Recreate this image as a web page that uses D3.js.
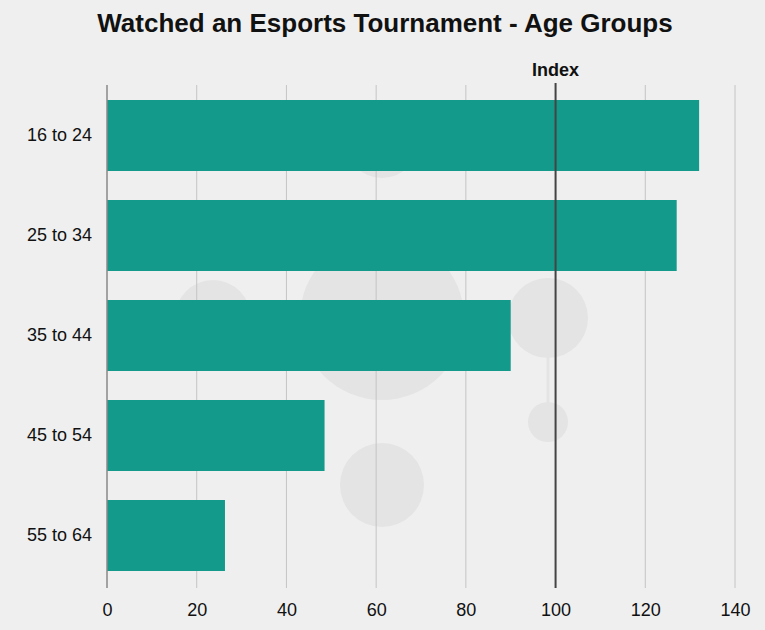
<!DOCTYPE html>
<html><head><meta charset="utf-8">
<script src="https://cdn.jsdelivr.net/npm/d3@7"></script>
<style>body{margin:0;background:#efefef;}svg{display:block;font-family:"Liberation Sans",Arial,sans-serif;}</style>
</head><body><svg id="c" width="765" height="630"></svg>
<script>
const categories = ["16 to 24","25 to 34","35 to 44","45 to 54","55 to 64"];
const values = [132, 127, 90, 48.5, 26.3];
const tickValues = [0,20,40,60,80,100,120,140];
const indexValue = 100;

const svg = d3.select("#c");
svg.append("rect").attr("width",765).attr("height",630).attr("fill","#efefef");
// decorative background bubbles
const deco = [[382,140,38],[213,318,38],[382,318,82],[548,318,40],[548,422,20],[382,485,42]];
svg.selectAll("circle.d").data(deco).join("circle").attr("cx",d=>d[0]).attr("cy",d=>d[1]).attr("r",d=>d[2]).attr("fill","#e4e4e4");
svg.append("line").attr("x1",548).attr("x2",548).attr("y1",330).attr("y2",422).attr("stroke","#e4e4e4").attr("stroke-width",3);

const x = d3.scaleLinear().domain([0,140]).range([107,735]);
const y = d3.scaleBand().domain(categories).range([85,586]).paddingInner(0.29).paddingOuter(0.15);

svg.append("text").attr("x",385).attr("y",32).attr("text-anchor","middle")
  .attr("font-size",26).attr("font-weight","bold").attr("fill","#111").text("Watched an Esports Tournament - Age Groups");

svg.selectAll("line.g").data(tickValues.filter(t=>t!==0)).join("line")
  .attr("x1",d=>x(d)).attr("x2",d=>x(d)).attr("y1",85).attr("y2",588).attr("stroke","#c4c4c4").attr("stroke-width",1);

svg.selectAll("rect.b").data(values).join("rect")
  .attr("x",x(0)).attr("y",(d,i)=>y(categories[i])).attr("width",d=>x(d)-x(0)).attr("height",y.bandwidth())
  .attr("fill","#149a8a");

svg.append("line").attr("x1",x(0)).attr("x2",x(0)).attr("y1",85).attr("y2",588).attr("stroke","#888").attr("stroke-width",1.5);
svg.append("line").attr("x1",x(indexValue)).attr("x2",x(indexValue)).attr("y1",83).attr("y2",588).attr("stroke","#444").attr("stroke-width",2);
svg.append("text").attr("x",x(indexValue)).attr("y",76).attr("text-anchor","middle").attr("font-size",18).attr("font-weight","bold").attr("fill","#111").text("Index");

const xa = svg.append("g").attr("transform","translate(0,588)").call(d3.axisBottom(x).tickValues(tickValues).tickSize(0).tickPadding(15));
xa.select(".domain").remove();
xa.selectAll("text").attr("font-size",18).attr("fill","#111").attr("font-family","Liberation Sans, Arial, sans-serif");

const ya = svg.append("g").attr("transform","translate(92,0)").call(d3.axisLeft(y).tickSize(0).tickPadding(0));
ya.select(".domain").remove();
ya.selectAll("text").attr("font-size",18).attr("fill","#111").attr("font-family","Liberation Sans, Arial, sans-serif");
</script></body></html>
